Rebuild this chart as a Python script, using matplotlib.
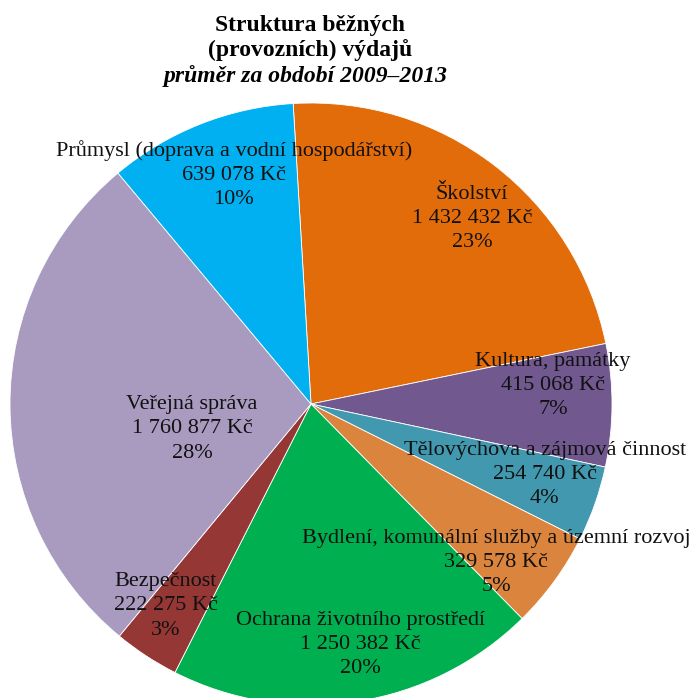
import matplotlib.pyplot as plt

# Data: running expenditure structure, average 2009-2013 (clockwise from top)
categories = [
    "Školství",
    "Kultura, památky",
    "Tělovýchova a zájmová činnost",
    "Bydlení, komunální služby a územní rozvoj",
    "Ochrana životního prostředí",
    "Bezpečnost",
    "Veřejná správa",
    "Průmysl (doprava a vodní hospodářství)",
]
values = [1432432, 415068, 254740, 329578, 1250382, 222275, 1760877, 639078]
value_labels = ["1 432 432 Kč", "415 068 Kč", "254 740 Kč", "329 578 Kč",
                "1 250 382 Kč", "222 275 Kč", "1 760 877 Kč", "639 078 Kč"]
percent_labels = ["23%", "7%", "4%", "5%", "20%", "3%", "28%", "10%"]

colors = ["#E36C0A", "#71588F", "#4198AF", "#DB843D",
          "#00B050", "#953735", "#A99BC0", "#00B0F0"]

# label placement (data coords, pie radius = 1)
label_pos = [(0.535, 0.615), (0.804, 0.060), (0.777, -0.233), (0.615, -0.528),
             (0.163, -0.80), (-0.482, -0.671), (-0.395, -0.083), (-0.256, 0.761)]

plt.rcParams['font.family'] = ['Liberation Serif', 'DejaVu Serif']

W, H = 694, 698
fig = plt.figure(figsize=(W / 100, H / 100), dpi=100)
cx, cy, r = 311, 404, 301
ax = fig.add_axes([(cx - r) / W, (H - cy - r) / H, 2 * r / W, 2 * r / H])

ax.pie(values, colors=colors, startangle=93.4, counterclock=False, radius=1,
       wedgeprops=dict(linewidth=0.6, edgecolor="white"))
ax.set_xlim(-1, 1)
ax.set_ylim(-1, 1)
ax.set_aspect("equal")
ax.axis("off")

for cat, val, pct, (x, y) in zip(categories, value_labels, percent_labels, label_pos):
    ax.text(x, y, f"{cat}\n{val}\n{pct}", ha="center", va="center",
            fontsize=16, linespacing=1.36, color="#111111", clip_on=False)

title_lines = ["Struktura běžných", "(provozních) výdajů"]
for i, line in enumerate(title_lines):
    fig.text(310 / W, 1 - (25 + 25 * i) / H, line, ha="center", va="center",
             fontsize=17, fontweight="bold")
fig.text(306 / W, 1 - 76 / H, "průměr za období 2009–2013", ha="center", va="center",
         fontsize=17, fontweight="bold", style="italic")

fig.savefig("out.png", dpi=100)
